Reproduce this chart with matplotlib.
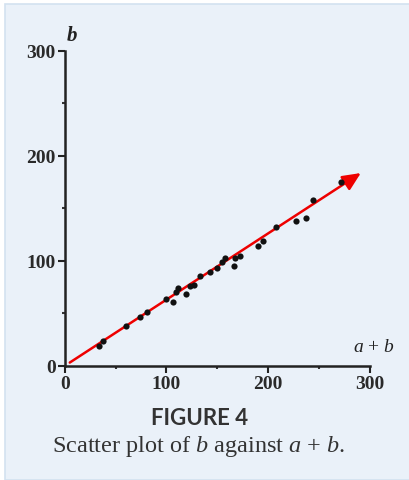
import matplotlib
matplotlib.use("Agg")
import matplotlib.pyplot as plt
from matplotlib.patches import Rectangle
from matplotlib.ticker import MultipleLocator

# Data
sum_ab = [33.9, 37.9, 60.1, 73.8, 81.0, 99.3, 106.5, 109.1, 111.8, 119.6, 123.5,
          127.5, 132.6, 143.1, 149.6, 154.5, 157.8, 166.0, 167.0, 171.9, 189.5,
          194.7, 207.8, 227.5, 237.5, 243.7, 271.6]
b_vals = [18.5, 23.8, 38.1, 46.7, 50.8, 63.5, 60.4, 70.5, 73.7, 68.3, 76.2,
          76.9, 85.1, 89.5, 92.8, 98.5, 102.9, 94.7, 102.9, 104.2, 114.3,
          119.0, 131.8, 138.1, 140.4, 157.8, 174.7]
arrow_start = (5, 3)
arrow_end = (291, 183.5)
tick_vals = [0, 100, 200, 300]
tick_labels = ["0", "100", "200", "300"]

plt.rcParams["mathtext.fontset"] = "custom"
plt.rcParams["mathtext.it"] = "Liberation Serif:italic"
plt.rcParams["mathtext.rm"] = "Liberation Serif"
plt.rcParams["mathtext.bf"] = "Liberation Serif:bold:italic"

bg = "#EAF1F9"
fig = plt.figure(figsize=(4.10, 4.81), dpi=100, facecolor="white")
fig.patches.append(Rectangle((5 / 410, 0), 1, 1 - 5 / 481, transform=fig.transFigure,
                             facecolor=bg, edgecolor="#D3E2F0", linewidth=1.2, zorder=-10))

ax = fig.add_axes([0.1578, 0.2376, 0.7446, 0.6549])
ax.set_facecolor("none")
ax.set_xlim(0, 300)
ax.set_ylim(0, 300)
for s in ["top", "right"]:
    ax.spines[s].set_visible(False)
for s in ["left", "bottom"]:
    ax.spines[s].set_color("#222222")
    ax.spines[s].set_linewidth(1.8)

ax.set_xticks(tick_vals)
ax.set_xticklabels(tick_labels)
ax.set_yticks(tick_vals)
ax.set_yticklabels(tick_labels)
ax.xaxis.set_minor_locator(MultipleLocator(50))
ax.yaxis.set_minor_locator(MultipleLocator(50))
ax.tick_params(which="major", direction="out", length=5, width=1.5, color="#222222",
               labelsize=14, labelcolor="#2a2a2a", pad=1.5)
ax.tick_params(which="minor", direction="out", length=2, width=1.5, color="#333333")
for lab in ax.get_xticklabels() + ax.get_yticklabels():
    lab.set_family("Liberation Serif")
    lab.set_fontweight("bold")

ax.annotate("", xy=arrow_end, xytext=arrow_start,
            arrowprops=dict(arrowstyle="-|>,head_length=1.1,head_width=0.5",
                            color="#EE0000", lw=1.8, shrinkA=0, shrinkB=0),
            zorder=4)
ax.scatter(sum_ab, b_vals, s=20, color="#111111", zorder=5, linewidths=0)

fig.text(67 / 410, 1 - 36 / 481, "b", family="Liberation Serif", style="italic",
         fontweight="bold", fontsize=15, color="#222222", ha="left", va="center")
fig.text(374 / 410, 1 - 348 / 481, "$a$ + $b$", family="Liberation Serif",
         fontsize=14, color="#222222", ha="center", va="center")

fig.text(200 / 410, 1 - 419 / 481, "FIGURE 4", family="Lato", fontweight="bold",
         fontsize=16, color="#333333", ha="center", va="center")
fig.text(198 / 410, 1 - 447 / 481, "Scatter plot of $b$ against $a$ + $b$.",
         family="Liberation Serif", fontsize=17.5, color="#333333", ha="center", va="center")

fig.savefig("out.png", dpi=100, facecolor=fig.get_facecolor())
